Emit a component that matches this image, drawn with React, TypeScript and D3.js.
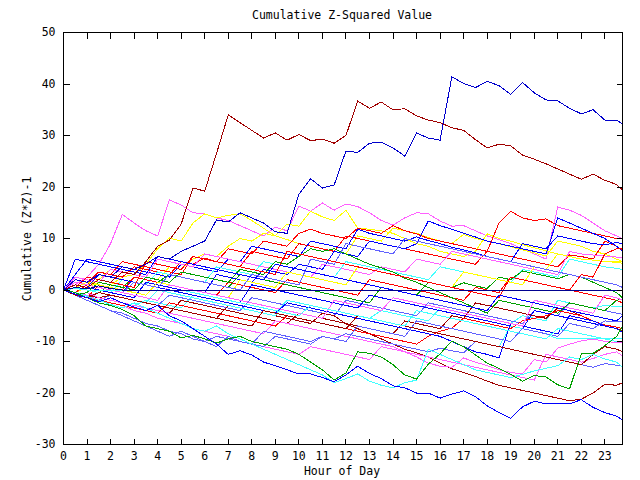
import { useEffect, useRef } from "react";
import * as d3 from "d3";

const WIDTH = 640;
const HEIGHT = 480;

// readings every half hour, plus the last quarter-hour
const HOURS = [...d3.range(0, 24, 0.5), 23.75];
const HOUR_TICKS = d3.range(0, 24);
const VALUE_TICKS = [-30, -20, -10, 0, 10, 20, 30, 40, 50];

// prominent series
const dkredTop = [
  0, 1, 0.5, 2, 1.5, 3.5, 3, 5.5, 8.5, 9.7, 12.8, 19.8,
  19.2, 26.5, 34, 32.5, 31, 29.5, 30.5, 29.1, 30.2, 29, 29.3, 28.5,
  30, 36.7, 35.3, 36.5, 35, 35.2, 33.8, 33, 32.5, 31.5, 31, 29.2,
  27.6, 28.3, 28, 26.2, 25.4, 24.5, 23.5, 22.5, 21.5, 22.5, 21.3, 20.5,
  19.4,
];
const blueTop = [
  0, 2, 1.5, 3, 2.5, 4.5, 4, 5, 6.5, 6, 7.5, 8.5,
  9.5, 13.6, 13.2, 15, 14, 13, 11.3, 11, 18.6, 21.6, 19.8, 20.4,
  27, 26.7, 28.5, 28.7, 27.6, 26, 30.5, 29.5, 29.1, 41.4, 40.1, 39.3,
  40.5, 39.7, 38, 40.3, 38.3, 36.9, 36.7, 35.3, 34.2, 35, 33, 33,
  32.2,
];
const blueBottom = [
  0, -0.8, -1.5, -2.3, -1.5, -2.5, -3.3, -4, -3, -5, -6, -7.5,
  -9, -10.5, -12.5, -11.8, -12.6, -14, -14.7, -15.5, -16.3, -16.3, -17, -17.8,
  -16.5, -14.8, -16.2, -17.2, -18.6, -19, -20, -20, -21, -20.2, -19.6, -20.7,
  -22.5, -23.8, -24.9, -22.7, -21.6, -22.1, -22.1, -22.1, -21.3, -22.8, -23.8, -24.5,
  -25.2,
];
const greenBottom = [
  0, -0.5, -1.5, -2.5, -3, -3.8, -5, -7, -7.5, -8, -9.3, -8.8,
  -9.5, -10.3, -9.5, -9, -10, -10.5, -11, -11.5, -12.5, -14, -15.5, -17.5,
  -16.1, -12, -12.3, -13, -14.5, -16.5, -17.3, -14.4, -12.4, -9.9, -11, -12.6,
  -14.2, -15.2, -16.4, -17.7, -16.6, -16.9, -18.4, -19.2, -12.4, -12.3, -10.8, -9,
  -7,
];
const cyanBottom = [
  0, -0.5, -1.2, -2, -2.8, -3.5, -2.5, -3.5, -4.5, -5.5, -6.5, -7.5,
  -8, -7, -8.5, -9.5, -10.5, -11.5, -12.5, -13.5, -14.5, -15.5, -16.5, -18,
  -17.2, -16.3, -17.7, -18.5, -19, -18, -17.5, -11.5, -12.5, -13.5, -14.5, -15.5,
  -16, -16.5, -17, -16.4, -15.7, -15.2, -14.7, -13, -13.5, -12.5, -13.4, -14,
  -15,
];
const navyZero = [
  0, 0.5, 0.2, 0.8, 0.3, 0, 0, 0, 0, 0, 0, 0,
  0, 0, 0, 0, 0, 0, 0, 0, 0, 0, 0, 0,
  0, 0, 0, 0, 0, 0, 0, 0, 0, 0, 0, 0,
  0, 0, 0, 0, 0, 0, 0, 0, 0, 0, 0, 0,
  0,
];
const cyanFlat = [
  0, 0.3, 0, 0, 0, 0, 0, 0, 0, 0, 0, -0.5,
  -1, -1.5, -2, -2.5, -3, -3.5, -4, -4.5, -5, -3, -3.5, -4,
  -4.5, -5, -5.5, -6, -6.5, -7, -4, -4.5, -5, -5.5, -6, -6.5,
  -7, -7.5, -8, -8.5, -9, -9.5, -7.5, -8, -8.5, -9, -9.5, -10,
  -10,
];

// the tangle
const pink1 = [
  0, 1, 2.5, 5, 9, 14.7, 13, 11.5, 10.5, 17.5, 16.5, 15,
  14.8, 14, 13.5, 12.5, 11.5, 10.5, 12.2, 11.5, 16.3, 15.3, 16.9, 15.5,
  16.7, 16.2, 15, 13.5, 12.6, 14, 15, 14.8, 13.4, 12.4, 12.5, 11.5,
  10.5, 9.8, 9, 8, 7, 6, 16.1, 15.5, 14.5, 13, 11.5, 10.5,
  10,
];
const yellow1 = [
  0, -0.5, 0.5, 1.5, 1, 2.5, 3, 5, 8, 10.1, 9.5, 13,
  14.8, 14, 14.5, 14.8, 13.5, 12, 10.5, 12.8, 12.4, 15.3, 14.2, 13.5,
  15.5, 12, 11.8, 11.5, 11, 10, 9, 8.5, 7.5, 7, 6.5, 7.5,
  10.9, 10, 9.5, 8.8, 8.2, 7.6, 7, 6.5, 6, 5.8, 5.5, 5.4,
  5.2,
];
const yellow2 = [
  0, 1.5, 1, 2, 4, 3.5, 3, 2.5, 2, 4.5, 4, 6,
  7, 6.5, 8.5, 10, 9.5, 11, 10.5, 9.8, 9, 8.5, 8, 7.5,
  7, 10.5, 10, 9.5, 12, 11.5, 11, 10.2, 9.5, 9, 10.8, 10,
  9.5, 9, 8.4, 7.8, 7.2, 6.6, 9.5, 9, 8.5, 7.5, 7, 6,
  5.5,
];
const red1 = [
  0, 2, 1.5, 3.5, 3, 2.5, 4.5, 4, 3.5, 3, 5.5, 5,
  6.2, 5.5, 8, 7.5, 7, 9.5, 9, 8.5, 11, 11.8, 11, 10.5,
  10, 12, 11.5, 11, 12.5, 11.5, 10.9, 10, 9.5, 9, 8.5, 8,
  7.5, 13, 15.3, 14, 13.5, 13.8, 12.5, 12, 11.5, 11, 10.5, 10,
  9.9,
];
const red2 = [
  0, -0.5, 1, 3.5, 3, 5.5, 5, 4.5, 4, 3.5, 3, 6.5,
  6, 5.5, 5, 4.5, 7.5, 7, 6.5, 6, 9, 8.5, 8, 7.5,
  10.5, 10, 9.5, 9, 8.5, 8, 7.5, 7, 6.5, 6, 5.5, 5,
  7.5, 7, 6.5, 6, 5.5, 5, 4.5, 6.8, 6.5, 6, 9.5, 8.5,
  7.6,
];
const blue1 = [
  0, 3, 6, 5.5, 5, 4.5, 4, 3.5, 3, 2.5, 5, 4.5,
  4, 3.5, 6, 5.5, 8.5, 8, 7.5, 7, 6.5, 9.5, 9, 8.5,
  8, 11.8, 11, 10.5, 10, 9.5, 10.3, 9.6, 9, 8.3, 7.8, 7.2,
  6.5, 6, 5.5, 9, 8.5, 8, 10.5, 10, 9.5, 9, 8.8, 9.2,
  9,
];
const blue2 = [
  0, 1.5, 1, 0.5, 0, -0.5, 2.5, 2, 1.5, 1, 0.5, 0,
  -0.5, 3, 2.5, 2, 1.5, 4, 3.5, 3, 5, 4.5, 4, 7.5,
  7, 6.5, 9.5, 9, 8.5, 8, 9, 13.4, 12.5, 11.8, 11, 10.3,
  9.5, 9, 8.5, 8, 7.5, 7, 14, 13, 12, 11, 10, 8.5,
  7.5,
];
const pink2 = [
  0, 2.5, 2, 1.5, 4, 3.5, 3, 2.5, 6, 5.5, 5, 4.5,
  7, 6.5, 6, 5.5, 5, 4.5, 4, 3.5, 3, 2.5, 5, 4.5,
  4, 3.5, 3, 4.5, 4, 3.5, 6, 5.5, 5, 7.5, 7, 6.5,
  6, 5.5, 5, 4.5, 4, 3.5, 3, 7.5, 7, 6.8, 6.6, 6.4,
  6.3,
];
const cyan1 = [
  0, 1, 0.5, 0, -0.5, 2, 1.5, 1, 3.5, 3, 2.5, 2,
  1.5, 4.5, 4, 3.5, 3, 5.5, 5, 4.5, 4, 3.5, 3, 2.5,
  5.5, 5, 4.5, 4, 3.5, 3, 2.5, 2, 4.5, 4, 3.5, 3,
  2.5, 2, 1.5, 4, 3.5, 3, 2.5, 6, 5.5, 5, 4.5, 4.2,
  4,
];
const green1 = [
  0, 0.5, 0, -0.5, 1, 0.5, 2.5, 2, 1.5, 3, 2.5, 2,
  1.5, 1, 0.5, 3, 2.5, 2, 1.5, 1, 0.5, 0, -0.5, -1,
  -1.5, -2, -2.5, 0.5, 0, -0.5, -1, 1.5, 1, 0.5, 1.4, 0.8,
  0.3, 2.5, 2, 3.7, 3.2, 2.7, 2.2, 3, 2.5, 1.5, 0.5, -0.5,
  -1.5,
];
const red3 = [
  0, -1, -1.5, 1, 0.5, 0, 2.5, 2, 1.5, 1, 0.5, 0,
  -0.5, -1, 1.5, 1, 0.5, 0, -0.5, 2, 1.5, 1, 0.5, 0,
  -0.5, -1, 2, 1.5, 1, 0.5, 0, -0.5, -1, -1.5, -2, 0.5,
  0, -0.5, 2.5, 2, 1.5, 1, 0.5, 0, -0.5, -1, -1.5, -2,
  -2.5,
];
const cyan2 = [
  0, -0.5, -1, -1.5, -2, -2.5, -3, -2, -2.5, -3, -3.5, -1,
  -1.5, -2, -2.5, -3, -3.5, -4, -4.5, -2, -2.5, -3, -3.5, -4,
  -4.5, -5, -5.5, -4, -4.5, -5, -5.5, -6, -3.5, -4, -4.5, -5,
  -5.5, -6, -6.5, -5, -5.5, -6, -2, -2.5, -3, -3.5, -3, -3.2,
  -3.3,
];
const slate1 = [
  0, -1, -1.5, -2, -1, -1.5, -2, -2.5, -3, -1, -1.5, -2,
  -2.5, -3, -3.5, -4, -1.5, -2, -2.5, -3, -3.5, -4, -4.5, -5,
  -2, -2.5, -3, -3.5, -4, -4.5, -5, -2.5, -3, -3.5, -4, -4.5,
  -5, -5.5, -6, -6.5, -4, -4.5, -5, -2.5, -3, -3.5, -4, -4.5,
  -4.7,
];
const blue3 = [
  0, 1, 0.5, 0, -0.5, -1, -1.5, 1.5, 1, 0.5, 0, -0.5,
  -1, -1.5, -2, -2.5, 1, 0.5, 0, -0.5, -1, -1.5, -2, -2.5,
  -3, -3.5, -1, -1.5, -2, -2.5, -3, -3.5, -4, -4.5, -5, -5.5,
  -6, -6.5, -7, -7.5, -4, -4.5, -5, -5.5, -6, -6.5, -7, -7.5,
  -8,
];
const dkred1 = [
  0, -0.5, -1, -1.5, -2, -2.5, -3, -3.5, -4, -4.5, -2, -2.5,
  -3, -3.5, -4, -4.5, -5, -5.5, -6, -6.5, -4.5, -5, -5.5, -6,
  -6.5, -7, -7.5, -8, -8.5, -6, -6.5, -7, -7.5, -5, -5.5, -2.5,
  -3, -3.5, -4, -4.5, -5, -5.5, -3.5, -4, -5, -6, -7, -7.5,
  -8,
];
const dkred2 = [
  0, -0.5, -1, -1.5, -1, -1.5, -2, -2.5, -3, -3.5, -4, -4.5,
  -5, -5.5, -3, -3.5, -4, -4.5, -5, -5.5, -6, -6.5, -4.5, -5,
  -6.6, -7.5, -8.5, -9.5, -10.5, -11.5, -12.2, -13, -14.2, -15.3, -16, -16.8,
  -17.7, -18.5, -19, -19.5, -20, -20.5, -21, -21.5, -21.2, -20, -18.3, -18.5,
  -18,
];
const pink3 = [
  0, -1, -0.5, -1.5, -2, -2.5, -3, -3.5, -4, -4.5, -5, -5.5,
  -6, -6.5, -7, -7.5, -8, -8.5, -6, -6.5, -7, -7.5, -8, -8.5,
  -9, -9.5, -10, -10.5, -11, -12, -13, -14.2, -14.8, -15, -13.2, -14,
  -14.7, -15.5, -16, -16.3, -13.5, -14, -11.3, -10.5, -9.9, -9.5, -10, -10.2,
  -10.3,
];
const slate2 = [
  0, -1, -2, -3, -4, -4.5, -5.5, -6.5, -7, -8, -8.5, -9.5,
  -10, -9, -9.5, -10, -10.5, -8, -8.5, -9, -9.5, -10, -9, -9.5,
  -8.5, -9, -9.5, -10, -10.5, -11, -11.5, -12, -11.3, -11.8, -12.2, -10,
  -10.5, -11, -11.5, -12, -12.5, -13, -13.5, -14, -14.5, -15, -14.3, -14.6,
  -14.8,
];
const pink4 = [
  0, -0.5, -1, -2, -2.5, -3, -4, -4.5, -5.5, -6, -6.5, -7.5,
  -8, -8.5, -9, -10, -10.5, -11, -11.5, -12, -12.5, -11, -11.5, -12,
  -12.5, -13, -13.5, -11, -11.5, -12, -12.5, -13, -13.5, -14, -14.5, -15,
  -15.5, -16, -16.5, -17, -17.5, -12.5, -13, -13.5, -14, -13.3, -12.5, -12,
  -12.8,
];
const cyan3 = [
  0, 0.5, 0, -0.5, -1, -1.5, -2, -2.5, 0, -0.5, -1, -1.5,
  -2, -2.5, -3, -3.5, -4, -4.5, -5, -2, -2.5, -3, -3.5, -4,
  -4.5, -5, -5.5, -6, -6.5, -7, -7.5, -8, -8.5, -9, -9.5, -10,
  -10.5, -11, -7, -7.5, -8, -8.5, -9.5, -9.5, -9.5, -9.5, -9.5, -9.5,
  -9.5,
];
const green2 = [
  0, -1, -0.5, 1.5, 1, 0.5, 0, 2.5, 2, 1.5, 3.5, 3,
  2.5, 2, 1.5, 4, 3.5, 3, 5.5, 5, 6.5, 8, 7.5, 8,
  7, 6, 5, 4.3, 3.5, 2.3, 1.5, 0.5, -0.5, -1.5, -2.5, -3.5,
  -4.5, -2, -2.5, -3, -3.5, -4, -4.5, -2.5, -3, -3.5, -4, -2,
  -1.8,
];
const yellow3 = [
  0, 0.5, 1.5, 1, 0.5, 0, -0.5, -1, 1.5, 1, 0.5, 0,
  -0.5, -1, -1.5, 2, 1.5, 1, 0.5, 3.5, 3, 2.5, 2, 1.5,
  1, 4.5, 4, 3.5, 3, 2.5, 2, 1.5, 1, 0.5, 3.5, 3,
  2.5, 2, 1.5, 1, 4.5, 4, 7, 6.5, 6, 5.8, 5.5, 5.6,
  5.5,
];
const red4 = [
  0, -1, -1.5, -2, -2.5, -3, -3.5, -4, -4.5, -2.5, -3, -3.5,
  -4, -4.5, -5, -5.5, -6, -6.5, -7, -5, -5.5, -6, -6.5, -7,
  -7.5, -8, -8.5, -9, -9.5, -10, -10.5, -9, -8, -7.4, -5.5, -6,
  -6.5, -7, -7.5, -6, -5.5, -5, -4, -4.5, -5, -6, -6.8, -7.2,
  -7.5,
];
const blue4 = [
  0, 1, 0.5, 3, 2.5, 2, 1.5, 1, 0.5, 0, -0.5, -1,
  -1.5, -2, -2.5, -3, -3.5, -4, -4.5, -2.5, -3, -3.5, -4, -4.5,
  -5, -5.5, -6, -6.5, -7, -7.5, -8, -8.5, -9, -10, -11, -12,
  -12.5, -13.2, -6.5, -7, -7.5, -8, -8.5, -5, -5.5, -6, -7, -7.5,
  -8.2,
];
const slate3 = [
  0, 1.5, 1, 0.5, 0, -0.5, 1.5, 1, 0.5, 3, 2.5, 2,
  1.5, 1, 0.5, 0, 3, 2.5, 2, 1.5, 1, 6, 5.5, 5,
  9, 8.5, 8, 7.5, 7, 10, 9.5, 9, 8.5, 8, 7.5, 7,
  6.5, 6, 5.5, 5, 4.5, 4, 3.5, 3, 2.5, 2, 1.5, 1,
  0.5,
];
const slate4 = [
  0, -1, -2, -3, -4, -5, -6, -7, -8, -9, -8, -9,
  -10, -11, -9, -10, -10.5, -11, -9, -9.5, -10, -10.5, -9, -9.5,
  -10, -7, -7.5, -8, -8.5, -9, -6, -6.5, -7, -7.5, -8, -8.5,
  -9, -9.5, -10, -7.5, -8, -8.5, -9, -6.5, -7, -7.5, -6, -6.2,
  -6,
];
const pink5 = [
  0, 1.5, 1, 0.5, 0, -0.5, -1, -1.5, -2, 1, 0.5, 0,
  -0.5, -1, -1.5, -2, -2.5, -3, -3.5, -4, -4.5, -5, -5.5, -2,
  -2.5, -3, -3.5, -4, -1.5, -2, -2.5, -3, -3.5, -4, -4.5, -5,
  -5.5, -6, -6.5, -7, -2, -2.5, -3, -3.5, -4, -4.5, -1, -1.5,
  -2,
];
const red5 = [
  0, 0.5, 2.5, 2, 1.5, 1, 0.5, 5.5, 5, 4.5, 4, 6.5,
  6, 5.5, 5, 4.5, 4, 3.5, 3, 7.5, 7, 6.5, 6, 5.5,
  5, 4.5, 4, 3.5, 3, 2.5, 2, 1.5, 1, 0.5, 0, -0.5,
  -1, -1.5, 2.5, 2, 1.5, 1, 0.5, 0, 3, 2.5, 7, 8,
  8,
];
const dkred3 = [
  0, -1, -1.5, -0.5, -1, -1.5, -2, -2.5, -3, -3.5, -4, -4.5,
  -5, -5.5, -6, -6.5, -7, -4, -4.5, -5, -5.5, -6, -6.5, -7,
  -7.5, -5, -5.5, -6, -6.5, -7, -7.5, -8, -8.5, -9, -9.5, -10,
  -10.5, -11, -11.5, -12, -12.5, -13, -13.5, -14, -14.5, -12.5, -11, -11.5,
  -12,
];
const blue5 = [
  0, 6, 5.5, 5, 4.5, 4, 3.5, 3, 6.5, 6, 5.5, 5,
  4.5, 4, 3.5, 3, 2.5, 2, 5, 4.5, 4, 3.5, 3, 2.5,
  2, 1.5, 1, 0.5, 0, -0.5, -1, -1.5, -2, -2.5, -3, -3.5,
  -4, -1, -1.5, -2, -2.5, -3, -3.5, -4, -4.5, -5, -5.5, -6,
  -5,
];

const C = {
  red: "#ff0000",
  green: "#00a000",
  blue: "#0000ff",
  pink: "#ff60ff",
  cyan: "#40ffff",
  dkred: "#a00000",
  yellow: "#ffff00",
  navy: "#000090",
  slate: "#6060ff",
  blueDeep: "#0000cc",
};

// drawing order: tangle first, prominent lines on top
const LINES: [number[], string][] = [
  [pink1, C.pink], [yellow1, C.yellow], [yellow2, C.yellow], [red1, C.red],
  [red2, C.red], [blue1, C.blue], [blue2, C.blue], [pink2, C.pink],
  [cyan1, C.cyan], [green1, C.green], [red3, C.red], [cyan2, C.cyan],
  [slate1, C.slate], [blue3, C.blue], [dkred1, C.dkred], [dkred2, C.dkred],
  [pink3, C.pink], [slate2, C.slate], [pink4, C.pink], [cyan3, C.cyan],
  [green2, C.green], [yellow3, C.yellow], [red4, C.red], [blue4, C.blue],
  [slate3, C.slate], [slate4, C.slate], [pink5, C.pink], [red5, C.red],
  [dkred3, C.dkred], [blue5, C.blue], [cyanFlat, C.cyan],
  [cyanBottom, C.cyan], [greenBottom, C.green], [blueBottom, C.blue],
  [dkredTop, C.dkred], [blueTop, C.blueDeep], [navyZero, C.navy],
];

const FONT = "'DejaVu Sans Mono', 'Liberation Mono', monospace";

export default function App() {
  const ref = useRef<SVGSVGElement>(null);

  useEffect(() => {
    const svg = d3.select(ref.current);
    svg.selectAll("*").remove();

    const left = 63.5, right = 622.5, top = 32.5, bottom = 444.5;
    const x = d3.scaleLinear().domain([0, 23.75]).range([left, right]);
    const y = d3.scaleLinear().domain([-30, 50]).range([bottom, top]);

    svg.append("rect").attr("width", WIDTH).attr("height", HEIGHT).attr("fill", "#fff");

    svg.append("clipPath").attr("id", "plot-clip")
      .append("rect")
      .attr("x", left).attr("y", top)
      .attr("width", right - left).attr("height", bottom - top);

    const line = d3
      .line<number>()
      .defined((d, i) => i < HOURS.length && d != null)
      .x((_, i) => x(HOURS[i]))
      .y((d) => y(d));

    const plot = svg.append("g").attr("clip-path", "url(#plot-clip)");
    LINES.forEach(([vals, color]) => {
      plot
        .append("path")
        .attr("d", line(vals))
        .attr("fill", "none")
        .attr("stroke", color)
        .attr("stroke-width", 1)
        .attr("shape-rendering", "crispEdges");
    });

    const styleAxis = (g: d3.Selection<SVGGElement, unknown, null, undefined>) => {
      g.select(".domain").remove();
      g.selectAll(".tick line").attr("stroke", "#000").attr("shape-rendering", "crispEdges");
      g.selectAll(".tick text")
        .attr("fill", "#000")
        .attr("font-family", FONT)
        .attr("font-size", 11.5);
    };

    svg.append("g")
      .attr("transform", `translate(0,${bottom})`)
      .call(d3.axisBottom(x).tickValues(HOUR_TICKS).tickSize(-6).tickPadding(7).offset(0)
        .tickFormat((d) => String(d)))
      .call(styleAxis);
    svg.append("g")
      .attr("transform", `translate(0,${top})`)
      .call(d3.axisTop(x).tickValues(HOUR_TICKS).tickSize(-6).offset(0).tickFormat(() => ""))
      .call(styleAxis);
    svg.append("g")
      .attr("transform", `translate(${left},0)`)
      .call(d3.axisLeft(y).tickValues(VALUE_TICKS).tickSize(-6).tickPadding(8).offset(0)
        .tickFormat((d) => String(d)))
      .call(styleAxis);
    svg.append("g")
      .attr("transform", `translate(${right},0)`)
      .call(d3.axisRight(y).tickValues(VALUE_TICKS).tickSize(-6).offset(0).tickFormat(() => ""))
      .call(styleAxis);

    svg.append("rect")
      .attr("x", left).attr("y", top)
      .attr("width", right - left).attr("height", bottom - top)
      .attr("fill", "none").attr("stroke", "#000")
      .attr("shape-rendering", "crispEdges");

    const label = (txt: string, tx: number, ty: number, rotate = 0) =>
      svg.append("text")
        .attr("transform", `translate(${tx},${ty}) rotate(${rotate})`)
        .attr("text-anchor", "middle")
        .attr("font-family", FONT)
        .attr("font-size", 11.5)
        .attr("fill", "#000")
        .text(txt);

    label("Cumulative Z-Squared Value", 342, 19);
    label("Hour of Day", 342, 475);
    label("Cumulative (Z*Z)-1", 31, 239, -90);
  }, []);

  return (
    <svg
      ref={ref}
      width={WIDTH}
      height={HEIGHT}
      style={{ position: "absolute", left: 0, top: 0, display: "block" }}
    />
  );
}
